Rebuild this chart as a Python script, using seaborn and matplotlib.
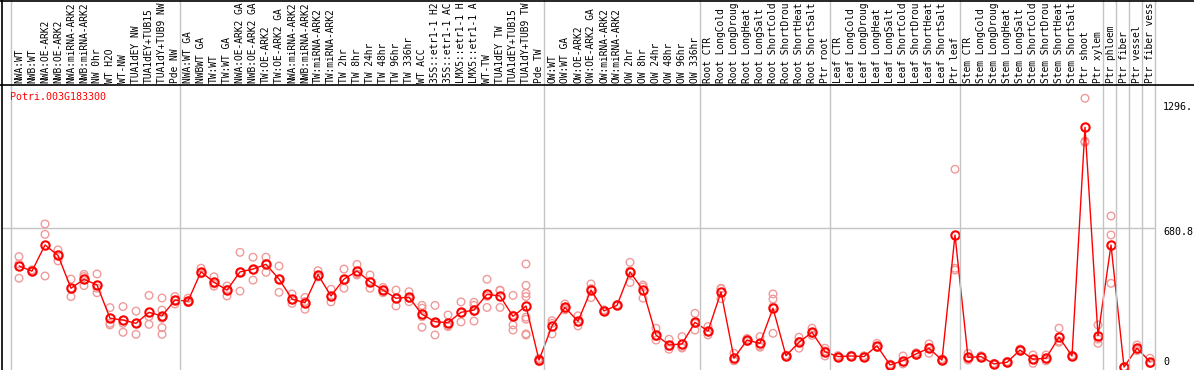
import numpy as np
import pandas as pd
import matplotlib
matplotlib.use("Agg")
import matplotlib.pyplot as plt
import matplotlib.transforms as mtransforms
from matplotlib.lines import Line2D
import seaborn as sns

# ---------------- Data ----------------
# column labels as they appear in the header (cut to the header height)
labels = [
    "NWA:WT", "NWB:WT", "NWA:OE-ARK2", "NWB:OE-ARK2", "NWA:miRNA-ARK2", "NWB:miRNA-ARK2",
    "NW 0hr", "WT H2O", "WT-NW", "TUA1dEY NW", "TUA1dEY+TUB15", "TUA1dY+TUB9 NW", "Pde NW",
    "NWA:WT GA", "NWBWT GA", "TW:WT", "TW:WT GA", "NWA:OE-ARK2 GA", "NWB:OE-ARK2 GA",
    "TW:OE-ARK2", "TW:OE-ARK2 GA", "NWA:miRNA-ARK2", "NWB:miRNA-ARK2", "TW:miRNA-ARK2",
    "TW:miRNA-ARK2", "TW 2hr", "TW 8hr", "TW 24hr", "TW 48hr", "TW 96hr", "TW 336hr",
    "WT ACC", "35S::etr1-1 H2", "35S::etr1-1 AC", "LMX5::etr1-1 H", "LMX5::etr1-1 A",
    "WT-TW", "TUA1dEY TW", "TUA1dEY+TUB15", "TUA1dY+TUB9 TW", "Pde TW",
    "OW:WT", "OW:WT GA", "OW:OE-ARK2", "OW:OE-ARK2 GA", "OW:miRNA-ARK2", "OW:miRNA-ARK2",
    "OW 2hr", "OW 8hr", "OW 24hr", "OW 48hr", "OW 96hr", "OW 336hr",
    "Root CTR", "Root LongCold", "Root LongDroug", "Root LongHeat", "Root LongSalt",
    "Root ShortCold", "Root ShortDrou", "Root ShortHeat", "Root ShortSalt", "Ptr root",
    "Leaf CTR", "Leaf LongCold", "Leaf LongDroug", "Leaf LongHeat", "Leaf LongSalt",
    "Leaf ShortCold", "Leaf ShortDrou", "Leaf ShortHeat", "Leaf ShortSalt", "Ptr leaf",
    "Stem CTR", "Stem LongCold", "Stem LongDroug", "Stem LongHeat", "Stem LongSalt",
    "Stem ShortCold", "Stem ShortDrou", "Stem ShortHeat", "Stem ShortSalt", "Ptr shoot",
    "Ptr xylem", "Ptr phloem", "Ptr fiber", "Ptr vessel", "Ptr fiber vess",
]

means = [
    495, 470, 598, 547, 386, 430, 402, 239, 230, 214, 268, 250, 328,
    323, 467, 415, 377, 466, 480, 503, 431, 333, 315, 452, 348, 431, 470, 418, 377, 337, 342,
    258, 222, 217, 268, 279, 356, 348, 248, 299, 34,
    201, 292, 224, 377, 275, 302, 466, 377, 157, 108, 113, 219,
    176, 368, 43, 132, 116, 288, 55, 121, 170, 75,
    51, 54, 51, 104, 10, 31, 64, 92, 34, 647,
    47, 51, 15, 23, 83, 38, 43, 146, 54, 1175,
    153, 598, 0, 92, 26,
]

replicates = [
    [541, 505, 435], [476, 468, 466], [701, 650, 446], [574, 547, 520], [431, 386, 345],
    [454, 443, 399], [456, 386, 364], [291, 214, 206], [296, 214, 170], [274, 214, 160],
    [351, 247, 209], [338, 279, 239, 193, 160], [345, 328, 309],
    [337, 323, 315], [484, 460, 457], [442, 407, 396], [397, 380, 348], [562, 466, 372],
    [538, 476, 426], [538, 507, 464], [495, 431, 366], [358, 329, 312], [341, 321, 283],
    [472, 443, 441], [381, 344, 319], [480, 427, 386], [503, 456, 451], [451, 418, 386],
    [390, 377, 364], [377, 335, 299], [369, 337, 320],
    [302, 288, 195, 247], [302, 214, 157, 215], [255, 201, 198, 214], [319, 221, 265],
    [317, 302, 225, 272], [430, 292, 346], [377, 292, 375], [351, 206, 181, 254],
    [505, 400, 361, 345, 244, 234, 162, 157], [34, 26, 42],
    [227, 162, 214], [309, 280, 287], [251, 201, 220], [407, 340, 384], [280, 272, 273],
    [305, 300, 301], [513, 414, 471], [402, 337, 392], [190, 132, 149], [136, 87, 101],
    [149, 97, 93], [263, 181, 213],
    [198, 157, 173], [386, 335, 383], [67, 30, 32], [140, 125, 131], [149, 97, 102],
    [358, 333, 165, 296], [58, 50, 57], [146, 92, 125], [190, 155, 165], [92, 54, 79],
    [56, 48, 49], [57, 52, 53], [55, 47, 51], [116, 96, 100], [14, 6, 10],
    [54, 15, 24], [70, 58, 64], [113, 67, 96], [40, 30, 32], [969, 484, 475],
    [67, 34, 40], [55, 47, 51], [18, 12, 15], [27, 19, 23], [88, 78, 83],
    [59, 18, 37], [59, 30, 40], [190, 121, 127], [58, 50, 54], [1317, 1101, 1107],
    [206, 116, 137], [740, 647, 410], [0, 0, 0], [108, 80, 88], [43, 18, 17],
]

# first column of each group (separator lines drawn before these)
group_starts = [0, 13, 41, 53, 63, 73, 84, 85, 86, 87, 88]
ytick_vals = ["1296.", "680.8", "0"]
gene = "Potri.003G183300"

# ---------------- Tables ----------------
x = np.arange(len(labels))
mean_df = pd.DataFrame({"idx": x, "value": means})
rep_df = pd.DataFrame(
    [(i, v) for i, reps in enumerate(replicates) for v in reps], columns=["idx", "value"]
)

# ---------------- Figure ----------------
sns.set_style("white")
plt.rcParams["font.family"] = ["DejaVu Sans Mono"]

W, H = 1194, 370
fig = plt.figure(figsize=(W / 100, H / 100), dpi=100)
header_px = 85
ax = fig.add_axes([2 / W, 0, (1155 - 2) / W, (H - header_px) / H])

sns.scatterplot(data=rep_df, x="idx", y="value", marker="o", s=30,
                facecolor="none", edgecolor="#f09a9a", linewidth=1.0, ax=ax, zorder=3)
sns.lineplot(data=mean_df, x="idx", y="value", color="red", lw=1.0, marker="o",
             markersize=6, markerfacecolor="none", markeredgecolor="red",
             markeredgewidth=1.5, ax=ax, zorder=4)

ax.set_xlim(-17 / 13, 1136 / 13)
ax.set_ylim(-14.7, 1382)
ax.axhline(680.8, color="#c4c4c4", lw=1, zorder=1)
ax.set_xlabel("")
ax.set_ylabel("")
ax.set_xticks([])
ax.set_yticks([])
for s in ax.spines.values():
    s.set_visible(False)

# group separators across the full height
sep_tr = mtransforms.blended_transform_factory(ax.transData, fig.transFigure)
for k in group_starts:
    fig.add_artist(Line2D([k - 0.65, k - 0.65], [0, 1], transform=sep_tr,
                          color="#c4c4c4", lw=1, zorder=1))

# column labels in the header
hdr_tr = mtransforms.blended_transform_factory(ax.transData, ax.transAxes)
for i, lab in enumerate(labels):
    ax.text(i, 1 + 2 / (H - header_px), lab, transform=hdr_tr, rotation=90,
            ha="center", va="bottom", fontsize=6.9, color="black", clip_on=False)

# frame lines
fig.add_artist(Line2D([0, 1], [1 - header_px / H] * 2, color="black", lw=1.2))
fig.add_artist(Line2D([1.5 / W] * 2, [0, 1], color="black", lw=1.2))
fig.add_artist(Line2D([0, 1], [1 - 0.5 / H] * 2, color="black", lw=1.2))

# gene name and value labels
fig.text(10 / W, 1 - 97 / H, gene, color="red", fontsize=7.2, va="center")
for lab, py in zip(ytick_vals, [107, 232, 362]):
    fig.text(1163 / W, 1 - py / H, lab, color="black", fontsize=7.2, va="center")

fig.savefig("out.png", dpi=100)
